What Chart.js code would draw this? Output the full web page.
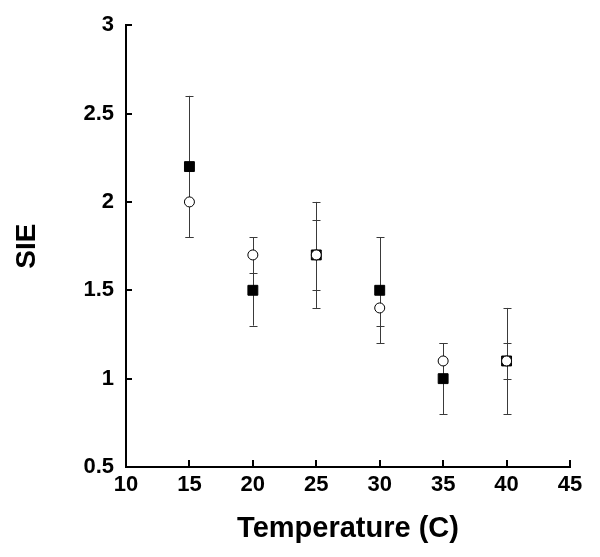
<!DOCTYPE html>
<html>
<head>
<meta charset="utf-8">
<script src="https://cdn.jsdelivr.net/npm/chart.js@4.4.1/dist/chart.umd.min.js"></script>
<style>
  html, body { margin: 0; padding: 0; background: #ffffff; }
  #wrap { width: 600px; height: 557px; }
</style>
</head>
<body>
<div id="wrap"><canvas id="c" width="600" height="557"></canvas></div>
<script>
// ---- data ----
const temperatures = [15, 20, 25, 30, 35, 40];
const squareSIE = [2.2, 1.5, 1.7, 1.5, 1.0, 1.1];
const squareErr = [0.4, 0.2, 0.3, 0.3, 0.2, 0.3];
const circleSIE = [2.0, 1.7, 1.7, 1.4, 1.1, 1.1];
const circleErr = [0.2, 0.1, 0.2, 0.1, 0.1, 0.1];
const xTickValues = [10, 15, 20, 25, 30, 35, 40, 45];
const yTickValues = [0.5, 1, 1.5, 2, 2.5, 3];
const xTitle = 'Temperature (C)';
const yTitle = 'SIE';

const FONT = '"Liberation Sans", Arial, Helvetica, sans-serif';

function toPoints(xs, ys) {
  return xs.map((x, i) => ({ x: x, y: ys[i] }));
}

// error bars drawn through the chart's own scales
const errorBarPlugin = {
  id: 'errorBars',
  beforeDatasetsDraw(chart) {
    const ctx = chart.ctx;
    const xs = chart.scales.x, ys = chart.scales.y;
    const cap = 4;
    ctx.save();
    ctx.strokeStyle = '#3a3a3a';
    ctx.lineWidth = 1;
    chart.data.datasets.forEach(ds => {
      const errs = ds.errors;
      ds.data.forEach((p, i) => {
        const e = errs[i];
        const px = Math.round(xs.getPixelForValue(p.x)) + 0.5;
        const top = ys.getPixelForValue(p.y + e);
        const bot = ys.getPixelForValue(p.y - e);
        ctx.beginPath();
        ctx.moveTo(px, top);
        ctx.lineTo(px, bot);
        ctx.moveTo(px - cap, Math.round(top) + 0.5);
        ctx.lineTo(px + cap, Math.round(top) + 0.5);
        ctx.moveTo(px - cap, Math.round(bot) + 0.5);
        ctx.lineTo(px + cap, Math.round(bot) + 0.5);
        ctx.stroke();
      });
    });
    ctx.restore();
  }
};

// inward tick marks on both axes
const inwardTicksPlugin = {
  id: 'inwardTicks',
  afterDraw(chart) {
    const ctx = chart.ctx;
    const xs = chart.scales.x, ys = chart.scales.y;
    const area = chart.chartArea;
    ctx.save();
    ctx.strokeStyle = '#000';
    ctx.lineWidth = 2;
    ctx.beginPath();
    xTickValues.forEach(v => {
      const px = Math.round(xs.getPixelForValue(v));
      ctx.moveTo(px, area.bottom);
      ctx.lineTo(px, area.bottom - 7);
    });
    yTickValues.forEach(v => {
      const py = Math.round(ys.getPixelForValue(v));
      ctx.moveTo(area.left, py);
      ctx.lineTo(area.left + 6, py);
    });
    ctx.stroke();
    ctx.restore();
  }
};

new Chart(document.getElementById('c'), {
  type: 'scatter',
  data: {
    datasets: [
      {
        label: 'circles',
        data: toPoints(temperatures, circleSIE),
        errors: circleErr,
        pointStyle: 'circle',
        pointRadius: 5,
        pointHoverRadius: 5,
        backgroundColor: '#ffffff',
        borderColor: '#000000',
        borderWidth: 1,
        showLine: false
      },
      {
        label: 'squares',
        data: toPoints(temperatures, squareSIE),
        errors: squareErr,
        pointStyle: 'rect',
        pointRadius: 7,
        pointHoverRadius: 7,
        backgroundColor: '#000000',
        borderColor: '#000000',
        borderWidth: 1,
        showLine: false
      }
    ]
  },
  options: {
    responsive: false,
    animation: false,
    events: [],
    layout: { padding: { top: 22, right: 30, left: 0, bottom: 0 } },
    plugins: {
      legend: { display: false },
      tooltip: { enabled: false },
      title: { display: false }
    },
    scales: {
      x: {
        type: 'linear',
        min: 10,
        max: 45,
        afterBuildTicks(scale) { scale.ticks = xTickValues.map(v => ({ value: v })); },
        afterFit(scale) { scale.height = 90; },
        grid: { display: false, drawTicks: false },
        border: { display: true, color: '#000', width: 2 },
        ticks: {
          color: '#000',
          padding: 5,
          maxRotation: 0,
          autoSkip: false,
          font: { family: FONT, size: 22, weight: 'bold' },
          callback: v => String(v)
        },
        title: {
          display: true,
          text: xTitle,
          color: '#000',
          font: { family: FONT, size: 29, weight: 'bold' },
          padding: { top: 0, bottom: 11 }
        }
      },
      y: {
        type: 'linear',
        min: 0.5,
        max: 3,
        afterBuildTicks(scale) { scale.ticks = yTickValues.map(v => ({ value: v })); },
        afterFit(scale) { scale.width = 126; },
        grid: { display: false, drawTicks: false },
        border: { display: true, color: '#000', width: 2 },
        ticks: {
          color: '#000',
          padding: 12,
          autoSkip: false,
          font: { family: FONT, size: 22, weight: 'bold' },
          callback: v => String(v)
        },
        title: {
          display: true,
          text: yTitle,
          color: '#000',
          font: { family: FONT, size: 28, weight: 'bold' },
          padding: { top: 10, bottom: 0 }
        }
      }
    }
  },
  plugins: [errorBarPlugin, inwardTicksPlugin]
});
</script>
</body>
</html>
